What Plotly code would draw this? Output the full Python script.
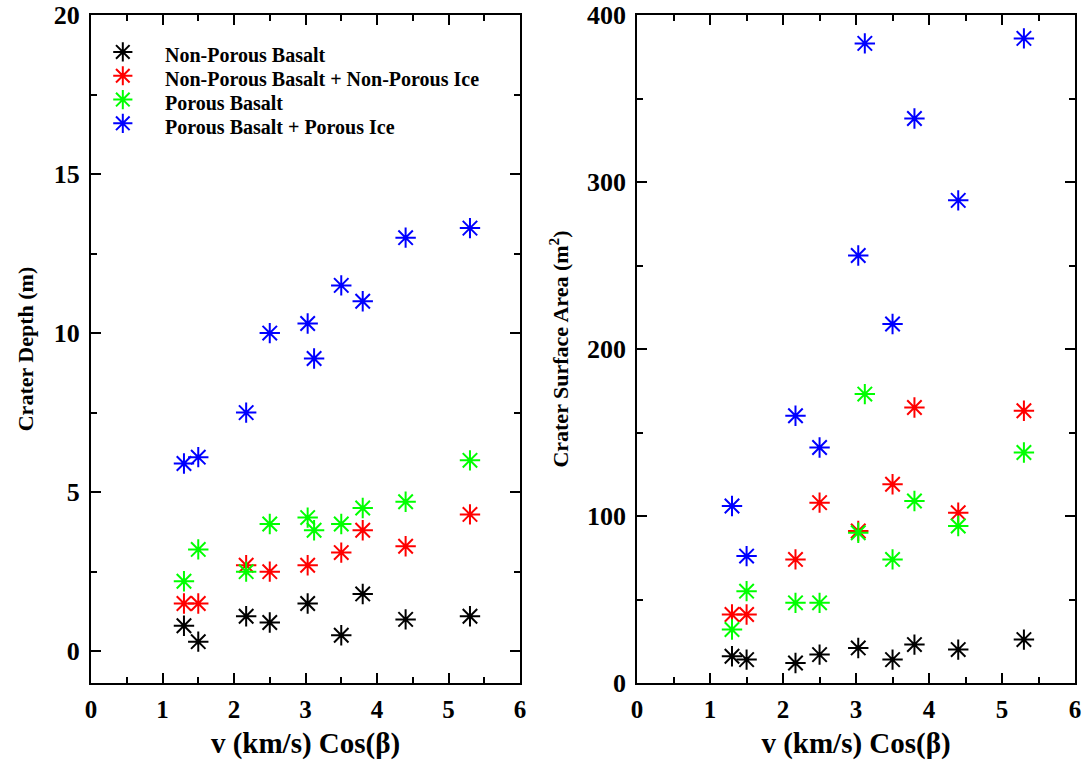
import plotly.graph_objects as go
from plotly.subplots import make_subplots

# Data
names = ["Non-Porous Basalt", "Non-Porous Basalt + Non-Porous Ice", "Porous Basalt", "Porous Basalt + Porous Ice"]
colors = ["#000000", "#ff0000", "#00ff00", "#0000ff"]

x_npb = [1.3, 1.5, 2.17, 2.5, 3.03, 3.5, 3.8, 4.4, 5.3]
depth_npb = [0.8, 0.3, 1.1, 0.9, 1.5, 0.5, 1.8, 1.0, 1.1]
area_npb = [16, 14, 12, 17, 21, 14, 23, 20, 26]

x_npbi = [1.3, 1.5, 2.17, 2.5, 3.03, 3.5, 3.8, 4.4, 5.3]
depth_npbi = [1.5, 1.5, 2.7, 2.5, 2.7, 3.1, 3.8, 3.3, 4.3]
area_npbi = [41, 41, 74, 108, 91, 119, 165, 102, 163]

x_pb = [1.3, 1.5, 2.17, 2.5, 3.03, 3.12, 3.5, 3.8, 4.4, 5.3]
depth_pb = [2.2, 3.2, 2.5, 4.0, 4.2, 3.8, 4.0, 4.5, 4.7, 6.0]
area_pb = [32, 55, 48, 48, 90, 173, 74, 109, 94, 138]

x_pbi = [1.3, 1.5, 2.17, 2.5, 3.03, 3.12, 3.5, 3.8, 4.4, 5.3]
depth_pbi = [5.9, 6.1, 7.5, 10.0, 10.3, 9.2, 11.5, 11.0, 13.0, 13.3]
area_pbi = [106, 76, 160, 141, 256, 383, 215, 338, 289, 386]

x_ticks = [0, 1, 2, 3, 4, 5, 6]
depth_ticks = [0, 5, 10, 15, 20]
area_ticks = [0, 100, 200, 300, 400]

series = [
    (x_npb, depth_npb, area_npb),
    (x_npbi, depth_npbi, area_npbi),
    (x_pb, depth_pb, area_pb),
    (x_pbi, depth_pbi, area_pbi),
]

FONT = "Liberation Serif"

fig = make_subplots(rows=1, cols=2)

for i, (xs, d, a) in enumerate(series):
    mk = dict(symbol="asterisk-open", size=17, color=colors[i],
              line=dict(color=colors[i], width=2))
    fig.add_trace(go.Scatter(x=xs, y=d, mode="markers", marker=mk,
                             name="\u00a0", showlegend=True), row=1, col=1)
    fig.add_trace(go.Scatter(x=xs, y=a, mode="markers", marker=mk,
                             name=names[i], showlegend=False), row=1, col=2)

# legend texts (bold, larger than plotly's legend row spacing allows)
leg_rows = [0.940, 0.904, 0.868, 0.832]
for i, nm in enumerate(names):
    fig.add_annotation(x=0.0732, y=leg_rows[i], xref="paper", yref="paper",
                       xanchor="left", yanchor="middle", showarrow=False,
                       text="<b>" + nm + "</b>",
                       font=dict(family=FONT, size=20, color="black"))

def bold(vals):
    return ["<b>%g</b>" % v for v in vals]

minor_style = dict(ticklen=6, tickwidth=2, tickcolor="black", ticks="inside")
axis_common = dict(
    showline=True, linecolor="black", linewidth=2, mirror="ticks",
    ticks="inside", ticklen=10, tickwidth=2, tickcolor="black",
    showgrid=False, zeroline=False, automargin=False,
)

fig.update_xaxes(**axis_common, range=[0, 6], tickvals=x_ticks, ticktext=bold(x_ticks),
                 tickfont=dict(family=FONT, size=25, color="black"), ticklabelstandoff=3,
                 minor=dict(dtick=0.5, **minor_style),
                 title=dict(text="<b>v (km/s) Cos(β)</b>", font=dict(family=FONT, size=29, color="black"), standoff=11))
fig.update_xaxes(domain=[0.0, 0.436], row=1, col=1)
fig.update_xaxes(domain=[0.555, 1.0], row=1, col=2)

fig.update_yaxes(**axis_common, tickfont=dict(family=FONT, size=26, color="black"), ticklabelstandoff=4)
fig.update_yaxes(range=[-1, 20], tickvals=depth_ticks, ticktext=bold(depth_ticks),
                 minor=dict(tickvals=[2.5, 7.5, 12.5, 17.5], **minor_style),
                 title=dict(text="<b>Crater Depth (m)</b>", font=dict(family=FONT, size=22, color="black"), standoff=14),
                 domain=[0.0, 1.0], row=1, col=1)
fig.update_yaxes(range=[0, 400], tickvals=area_ticks, ticktext=bold(area_ticks),
                 minor=dict(dtick=50, **minor_style),
                 title=dict(text="<b>Crater Surface Area (m<sup>2</sup>)</b>", font=dict(family=FONT, size=22, color="black"), standoff=12),
                 domain=[0.0, 1.0], row=1, col=2)

fig.update_layout(
    width=1091, height=772,
    margin=dict(l=91, r=16, t=15, b=89, autoexpand=False),
    plot_bgcolor="white", paper_bgcolor="white",
    font=dict(family=FONT, color="black"),
    legend=dict(x=0.012, y=0.970, xanchor="left", yanchor="top",
                bgcolor="rgba(0,0,0,0)", tracegroupgap=0,
                font=dict(family=FONT, size=16, color="black"),
                itemsizing="trace"),
    showlegend=True,
)

fig.write_html("out.html")
